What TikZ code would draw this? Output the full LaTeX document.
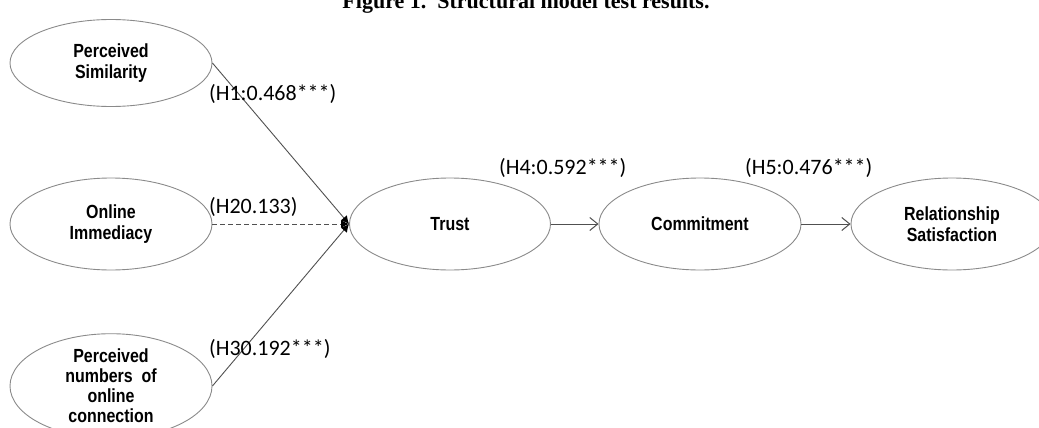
\documentclass[tikz,border=0pt]{standalone}
\usepackage{fontspec}
\usetikzlibrary{shapes.geometric,arrows.meta}
\newfontfamily\constructfont[FakeStretch=0.84]{Liberation Sans}
\newfontfamily\pathfont{Carlito}
\newfontfamily\titlefont{Liberation Serif}
\definecolor{ellgray}{HTML}{8A8A8A}
\definecolor{linegray}{HTML}{505050}
\tikzset{
  construct/.style={ellipse, draw=ellgray, line width=0.9pt, inner sep=0pt,
    minimum width=202pt, minimum height=92pt, align=center,
    font=\constructfont\bfseries\fontsize{19}{21}\selectfont},
  pathlabel/.style={anchor=west, inner sep=0pt, font=\pathfont\fontsize{22}{24}\selectfont},
  link/.style={draw=linegray, line width=0.9pt},
  conv/.style={link, -{Latex[length=8pt,width=8pt,fill=black,color=black]}},
  chain/.style={link, -{Straight Barb[length=8pt,width=13pt,line width=1pt]}}
}
\begin{document}
\begin{tikzpicture}[x=1pt,y=-1pt]
\useasboundingbox (0,0) rectangle (1039,428);
\begin{scope}
\clip (0,0) rectangle (1039,428);
% caption
\node[anchor=base, inner sep=0pt, font=\titlefont\bfseries\fontsize{22}{24}\selectfont] (title) at (526,9) {Figure 1.\ \ Structural model test results.};
% constructs
\node[construct, minimum height=87pt] (ps) at (111,63) {Perceived\\Similarity};
\node[construct] (oi) at (111,224) {Online\\Immediacy};
\node[construct, font=\constructfont\bfseries\fontsize{19}{20}\selectfont] (pn) at (111,386) {Perceived\\numbers\ \ of\\online\\connection};
\node[construct, minimum width=201pt] (trust) at (450,224) {Trust};
\node[construct] (comm) at (700,224) {Commitment};
\node[construct] (rs) at (952,224) {Relationship\\Satisfaction};
% paths into trust
\draw[conv] (ps.east) -- (trust.west);
\draw[conv, dashed, dash pattern=on 5pt off 3pt] (oi.east) -- (trust.west);
\draw[conv] (pn.east) -- (trust.west);
% chain
\draw[chain] (trust) -- (comm);
\draw[chain] (comm) -- (rs);
% coefficients
\node[pathlabel] (h1) at (209,94) {(H1:0.468***)};
\node[pathlabel] (h2) at (209,207) {(H20.133)};
\node[pathlabel] (h3) at (209,349) {(H30.192***)};
\node[pathlabel] (h4) at (499,168) {(H4:0.592***)};
\node[pathlabel] (h5) at (745,168) {(H5:0.476***)};
\end{scope}
\end{tikzpicture}
\end{document}
